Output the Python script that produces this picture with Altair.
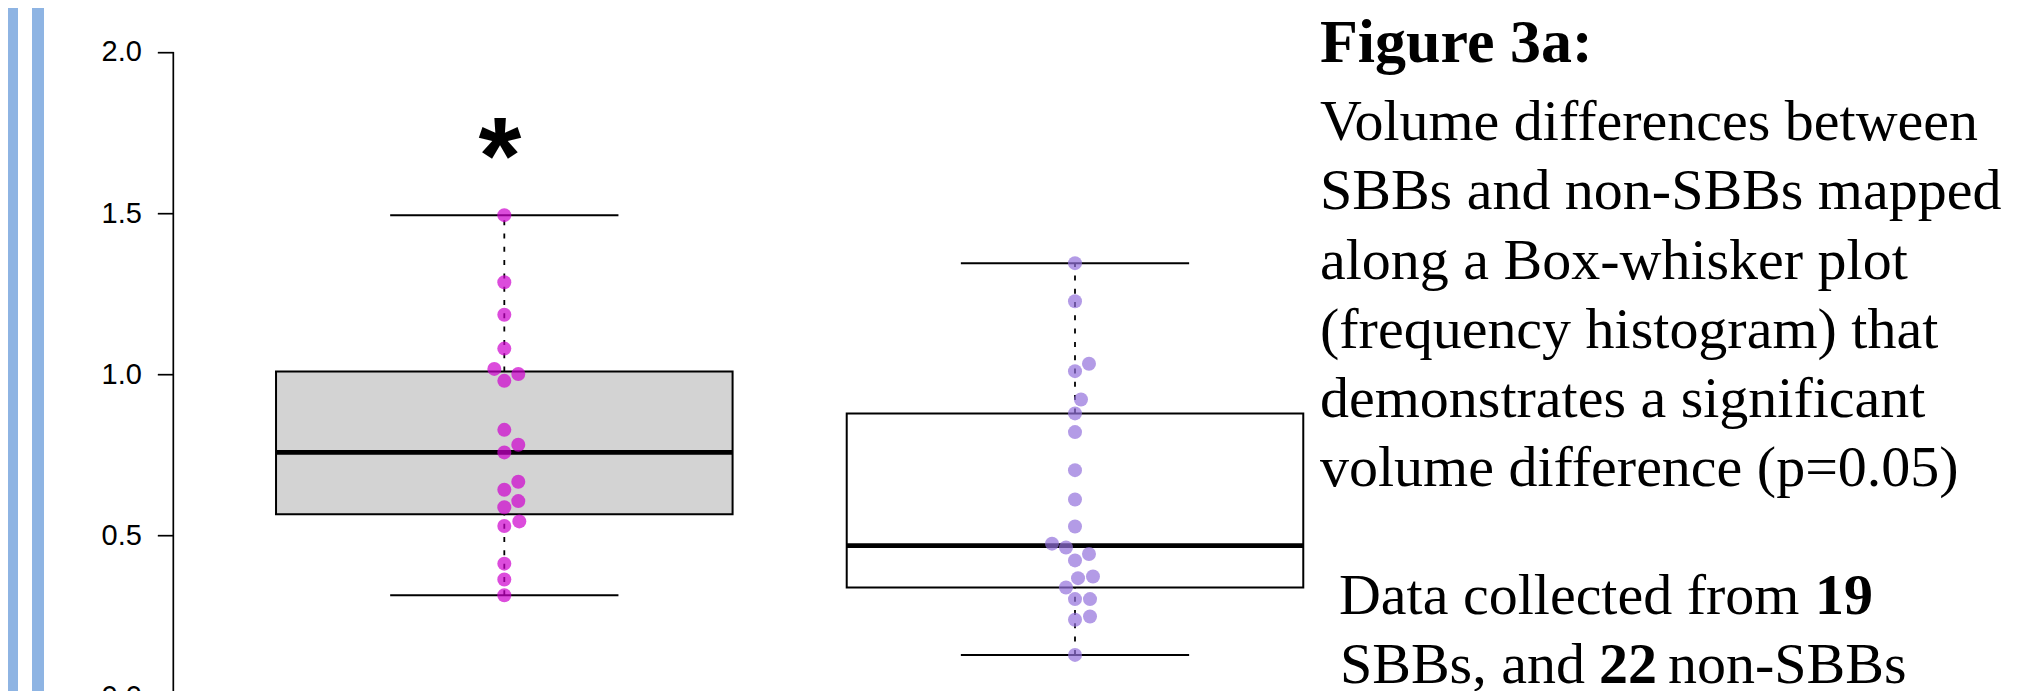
import math
import altair as alt
import pandas as pd

# ---------------- data ----------------
GROUPS = ["SBBs", "non-SBBs"]
GROUP_POS = [1, 2]

SBB_VALUES = [1.494, 1.286, 1.185, 1.080, 1.017, 1.001, 0.980, 0.828, 0.782, 0.758,
              0.667, 0.642, 0.607, 0.588, 0.544, 0.530, 0.413, 0.364, 0.315]
# beeswarm side-shift of each point (x units)
SBB_SWARM = [0, 0, 0, 0, -0.0175, 0.0245, 0, 0, 0.0245, 0,
             0.0245, 0, 0.0245, 0, 0.0263, 0, 0, 0, 0]

NON_VALUES = [1.345, 1.227, 1.033, 1.010, 0.922, 0.879, 0.821, 0.703, 0.612, 0.528, 0.475,
              0.463, 0.443, 0.423, 0.373, 0.368, 0.339, 0.303, 0.303, 0.249, 0.239, 0.130]
NON_SWARM = [0, 0, 0.0245, 0, 0.0105, 0, 0, 0, 0, 0, -0.0403,
             -0.0158, 0.0245, 0, 0.0315, 0.0053, -0.0158, 0, 0.0263, 0.0263, 0, 0]

Y_TICKS = [0.0, 0.5, 1.0, 1.5, 2.0]

TITLE = "Figure 3a:"
BODY_LINES = [
    "Volume differences between",
    "SBBs and non-SBBs mapped",
    "along a Box-whisker plot",
    "(frequency histogram) that",
    "demonstrates a significant",
    "volume difference (p=0.05)",
]
N_LINE1 = ["Data collected from ", "19"]
N_LINE2 = ["SBBs, and ", "22", "non-SBBs"]

# ---------------- styles / layout ----------------
BOX_HALF = 0.4
CAP_HALF = 0.2
BOX_FILLS = ["#D3D3D3", "#FFFFFF"]
DOT_COLORS = ["#CD00CD", "#9370DB"]
BAR_BLUE = "#8EB4E3"

X_DOMAIN = [0.42, 2.58]
Y_DOMAIN = [-0.08, 2.08]
W = 1232.7
H = 696.4
OX, OY = 173.3, 26.2   # page position of plot origin


def fivenum(v):
    s = sorted(v)
    n = len(s)
    n4 = math.floor((n + 3) / 2) / 2
    d = [1, n4, (n + 1) / 2, n + 1 - n4, n]
    return [0.5 * (s[math.floor(di) - 1] + s[math.ceil(di) - 1]) for di in d]


rows = []
pts = []
for g, p, vals, sw, fill in zip(GROUPS, GROUP_POS, [SBB_VALUES, NON_VALUES],
                                [SBB_SWARM, NON_SWARM], BOX_FILLS):
    f = fivenum(vals)
    q1, med, q3 = f[1], f[2], f[3]
    iqr = q3 - q1
    wlo = min(v for v in vals if v >= q1 - 1.5 * iqr)
    whi = max(v for v in vals if v <= q3 + 1.5 * iqr)
    rows.append(dict(group=g, pos=p, lo=p - BOX_HALF, hi=p + BOX_HALF,
                     clo=p - CAP_HALF, chi=p + CAP_HALF,
                     q1=q1, med=med, q3=q3, wlo=wlo, whi=whi, fill=fill))
    for v, s in zip(vals, sw):
        pts.append(dict(group=g, xpos=p + s, value=v))

box_df = pd.DataFrame(rows)
pt_df = pd.DataFrame(pts)

xs = alt.Scale(domain=X_DOMAIN, nice=False, zero=False)
ys = alt.Scale(domain=Y_DOMAIN, nice=False, zero=False)

yaxis = alt.Axis(values=Y_TICKS, format=".1f", domain=False, grid=False,
                 tickSize=16, tickWidth=1.7, tickColor="black",
                 labelFont="Liberation Sans", labelFontSize=29, labelColor="black",
                 labelPadding=16, title=None)

base = alt.Chart(box_df)

boxes = base.mark_rect(stroke="black", strokeWidth=2).encode(
    x=alt.X("lo:Q", scale=xs, axis=None), x2="hi:Q",
    y=alt.Y("q1:Q", scale=ys, axis=yaxis), y2="q3:Q",
    fill=alt.Fill("fill:N", scale=None),
)
medians = base.mark_rule(color="black", strokeWidth=4.6).encode(
    x=alt.X("lo:Q", scale=xs, axis=None), x2="hi:Q",
    y=alt.Y("med:Q", scale=ys),
)
whisk_up = base.mark_rule(color="black", strokeWidth=1.8, strokeDash=[5, 8.3]).encode(
    x=alt.X("pos:Q", scale=xs, axis=None), y=alt.Y("q3:Q", scale=ys), y2="whi:Q",
)
whisk_dn = base.mark_rule(color="black", strokeWidth=1.8, strokeDash=[5, 8.3]).encode(
    x=alt.X("pos:Q", scale=xs, axis=None), y=alt.Y("wlo:Q", scale=ys), y2="q1:Q",
)
cap_up = base.mark_rule(color="black", strokeWidth=2).encode(
    x=alt.X("clo:Q", scale=xs, axis=None), x2="chi:Q", y=alt.Y("whi:Q", scale=ys),
)
cap_dn = base.mark_rule(color="black", strokeWidth=2).encode(
    x=alt.X("clo:Q", scale=xs, axis=None), x2="chi:Q", y=alt.Y("wlo:Q", scale=ys),
)
dots = alt.Chart(pt_df).mark_circle(size=196, opacity=0.7).encode(
    x=alt.X("xpos:Q", scale=xs, axis=None),
    y=alt.Y("value:Q", scale=ys),
    color=alt.Color("group:N", scale=alt.Scale(domain=GROUPS, range=DOT_COLORS), legend=None),
)

# y axis line only between first and last tick (R style)
axis_line = alt.Chart(pd.DataFrame({"a": [0]})).mark_rule(color="black", strokeWidth=1.7).encode(
    x=alt.value(0),
    y=alt.Y(datum=Y_TICKS[0], scale=ys),
    y2=alt.datum(Y_TICKS[-1]),
)

one = pd.DataFrame({"a": [0]})


def vbar(px0, px1):
    return alt.Chart(one).mark_rect(color=BAR_BLUE).encode(
        x=alt.value(px0 - OX), x2=alt.value(px1 - OX),
        y=alt.value(-40), y2=alt.value(H + 40),
    )


def page_text(txt, px, py, size, bold=False, align="left", font="Liberation Serif"):
    return alt.Chart(pd.DataFrame({"t": [txt]})).mark_text(
        align=align, baseline="alphabetic", font=font, fontSize=size,
        fontWeight="bold" if bold else "normal", color="black",
    ).encode(x=alt.value(px - OX), y=alt.value(py - OY), text="t:N")


star = page_text("*", 500, 193, 110, bold=True, align="center", font="Liberation Sans")

texts = [page_text(TITLE, 1320, 62, 62, bold=True)]
for i, line in enumerate(BODY_LINES):
    texts.append(page_text(line, 1320, 140 + 69.3 * i, 58))
texts.append(page_text(N_LINE1[0], 1339, 614, 58))
texts.append(page_text(N_LINE1[1], 1815, 614, 58, bold=True))
texts.append(page_text(N_LINE2[0], 1340, 683, 58))
texts.append(page_text(N_LINE2[1], 1599, 683, 58, bold=True))
texts.append(page_text(N_LINE2[2], 1668, 683, 58))

chart = alt.layer(
    vbar(6, 18), vbar(32, 44),
    boxes, medians, whisk_up, whisk_dn, cap_up, cap_dn, axis_line, dots, star,
    *texts,
).properties(
    width=W, height=H,
    autosize=alt.AutoSizeParams(type="none"),
    padding={"left": OX - 8, "top": OY - 8, "right": 2000 - (OX - 8) - W, "bottom": 0},
).configure(
    background="white",
    view=alt.ViewConfig(stroke="transparent", strokeWidth=0),
)

chart.save("out.html", embed_options={"renderer": "svg", "actions": False})
